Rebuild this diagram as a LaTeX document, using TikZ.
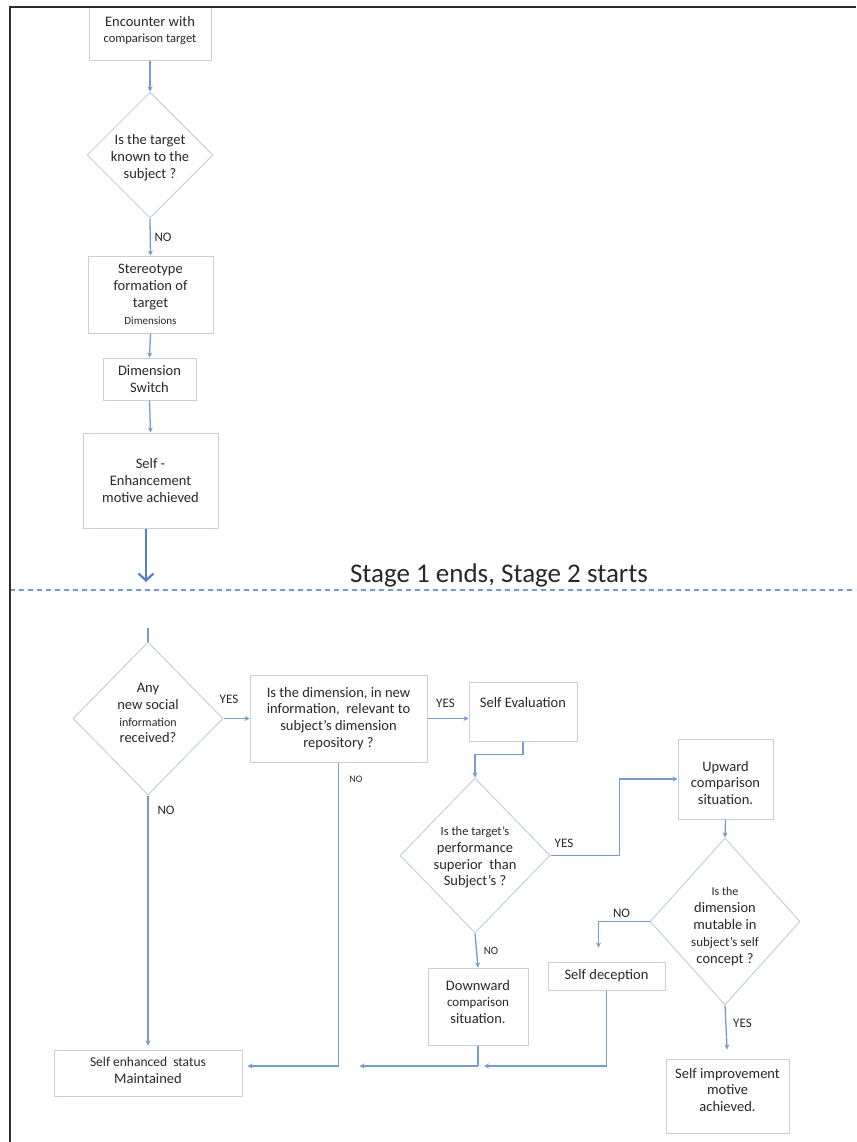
\documentclass[tikz,border=0pt]{standalone}
\usepackage{fontspec}
\setmainfont{Carlito}
\usetikzlibrary{arrows.meta,shapes.geometric,calc}
\definecolor{conn}{RGB}{120,155,205}
\definecolor{connd}{RGB}{85,130,190}
\definecolor{bord}{RGB}{198,207,222}
\definecolor{txtc}{RGB}{40,40,40}
\definecolor{framec}{RGB}{45,45,45}
\newcommand{\sz}[2]{\fontsize{#1}{#2}\selectfont}
\begin{document}
\begin{tikzpicture}[x=1pt,y=-1pt,
  box/.style={draw=bord, line width=1pt, fill=white, align=center, inner sep=0pt, text=txtc, font=\sz{14.5}{16.8}},
  dia/.style={draw=bord, line width=1pt, diamond, inner sep=0pt},
  txt/.style={align=center, text=txtc, inner sep=0pt, font=\sz{14.5}{16.8}},
  lin/.style={draw=conn, line width=1.3pt},
  arr/.style={draw=conn, line width=1.3pt, -{Stealth[length=5pt,width=5pt]}},
  thickarr/.style={draw=connd, line width=2.2pt, -{Straight Barb[length=7pt,width=15pt]}},
  lab/.style={text=txtc, inner sep=0pt, font=\sz{13}{15}}
]
\useasboundingbox (0,0) rectangle (856,1142);
\fill[white] (0,0) rectangle (856,1142);

% ---------- Stage 1 ----------
\node[box, minimum width=122, minimum height=54] (b1) at (150,34) {};
\node[txt] (b1t) at (150,30.5) {Encounter with\\{\sz{12.5}{16.8}comparison target}};
\node[dia, minimum width=126, minimum height=126] (d1) at (150,155) {};
\node[txt] (d1t) at (150,158) {Is the target\\known to the\\subject ?};
\node[box, minimum width=125, minimum height=77] (b2) at (150.5,294.5) {Stereotype\\formation of\\target\\{\sz{11}{16.8}Dimensions}};
\node[box, minimum width=93, minimum height=42] (b3) at (149.5,379) {Dimension\\Switch};
\node[box, minimum width=135, minimum height=95] (b4) at (150.5,480.5) {Self -\\Enhancement\\motive achieved};

\draw[arr] (b1.south) -- (d1.north);
\draw[arr] (d1.south) -- (b2.north);
\node[lab] (no1) at (163,237) {NO};
\draw[arr] (b2.south) -- (b3.north);
\draw[arr] (b3.south) -- (b4.north);
\coordinate (s1end) at (146,582);
\draw[thickarr] (b4.south -| s1end) -- (s1end);

% ---------- separator ----------
\coordinate (dl) at (10,590);
\coordinate (dr) at (856,590);
\draw[conn, line width=1.3pt, dash pattern=on 5pt off 4pt] (dl) -- (dr);
\node[text=txtc, inner sep=0pt, font=\sz{27}{32}] (title) at (499,575) {Stage 1 ends, Stage 2 starts};

% ---------- Stage 2 ----------
\node[dia, minimum width=150, minimum height=153] (d2) at (148,718.5) {};
\node[txt] (d2t) at (148,713) {Any\\new social\\{\sz{12}{16.8}information}\\received?};
\coordinate (d2in) at (148,628);
\draw[lin] (d2in) -- (d2.north);

\node[box, minimum width=177, minimum height=87] (b5) at (338.5,718.5) {Is the dimension, in new\\information,~ relevant to\\subject's dimension\\repository ?};
\draw[arr] (d2.east) -- (b5.west);
\node[lab] (yes1) at (229,699) {YES};

\node[box, minimum width=108, minimum height=59] (b6) at (523,711.5) {};
\node[txt] (b6t) at (523,703) {Self Evaluation};
\draw[arr] (b5.east) -- (b5.east -| b6.west);
\node[lab] (yes2) at (445.5,703) {YES};

\node[dia, minimum width=150, minimum height=155] (d3) at (475,855.5) {};
\node[txt] (d3t) at (475,857.5) {{\sz{12.5}{16.8}Is the target's}\\performance\\superior~ than\\Subject's ?};
\draw[arr] (b6.south) -- ++(0,13) -| (d3.north);

\node[box, minimum width=95, minimum height=80] (b7) at (725.5,779) {};
\node[txt] (b7t) at (725.5,783) {Upward\\comparison\\situation.};
\draw[arr] (d3.east) -- ++(69,0) |- (b7.west);
\node[lab] (yes3) at (564,843) {YES};

\node[dia, minimum width=150, minimum height=167] (d4) at (725,921.5) {};
\node[txt] (d4t) at (725,926.5) {{\sz{12}{16.8}Is the}\\dimension\\mutable in\\{\sz{13}{16.8}subject's self}\\concept ?};
\draw[arr] (b7.south) -- (d4.north);

\node[box, minimum width=117, minimum height=28] (b9) at (606.5,976) {Self deception};
\draw[arr, shorten >=14pt] (d4.west) -| ([xshift=-8pt]b9.north);
\node[lab] (no4) at (621.5,913) {NO};

\node[box, minimum width=123, minimum height=74] (b10) at (727.5,1096) {};
\node[txt] (b10t) at (727.5,1090) {Self improvement\\motive\\achieved.};
\draw[arr, shorten >=9pt] (d4.south) -- (b10.north);
\node[lab] (yes4) at (742.5,1023) {YES};

\node[box, minimum width=100, minimum height=77] (b8) at (478,1006.5) {};
\node[txt] (b8t) at (478,1002) {Downward\\{\sz{13}{16.8}comparison}\\situation.};
\draw[arr] (d3.south) -- (b8.north);
\node[lab, font=\sz{11}{13}] (no3) at (491,951) {NO};

\node[box, minimum width=188, minimum height=46] (b11) at (148,1073) {};
\node[txt] (b11t) at (148,1070) {{\sz{13.5}{16.8}Self enhanced~ status}\\Maintained};
\draw[arr, shorten >=4pt] (d2.south) -- (b11.north);
\node[lab] (no2) at (166,810) {NO};

\coordinate (J1) at (478,1066);
\coordinate (J2) at (338.5,1066);
\draw[lin] (b8.south) -- (J1);
\draw[arr, shorten >=6pt] (b9.south) |- (J1);
\draw[lin] (b5.south) -- (J2);
\node[lab, font=\sz{10}{12}] (no5) at (356,779) {NO};
\draw[arr, shorten >=21pt] (J1) -- (J2);
\draw[arr, shorten >=5pt] (J2) -- (J2 -| b11.east);

% ---------- frame ----------
\coordinate (fbl) at (10,1142);
\coordinate (ftl) at (10,7);
\coordinate (ftr) at (856,7);
\draw[framec, line width=2pt] (fbl) -- (ftl) -- (ftr);
\end{tikzpicture}
\end{document}
